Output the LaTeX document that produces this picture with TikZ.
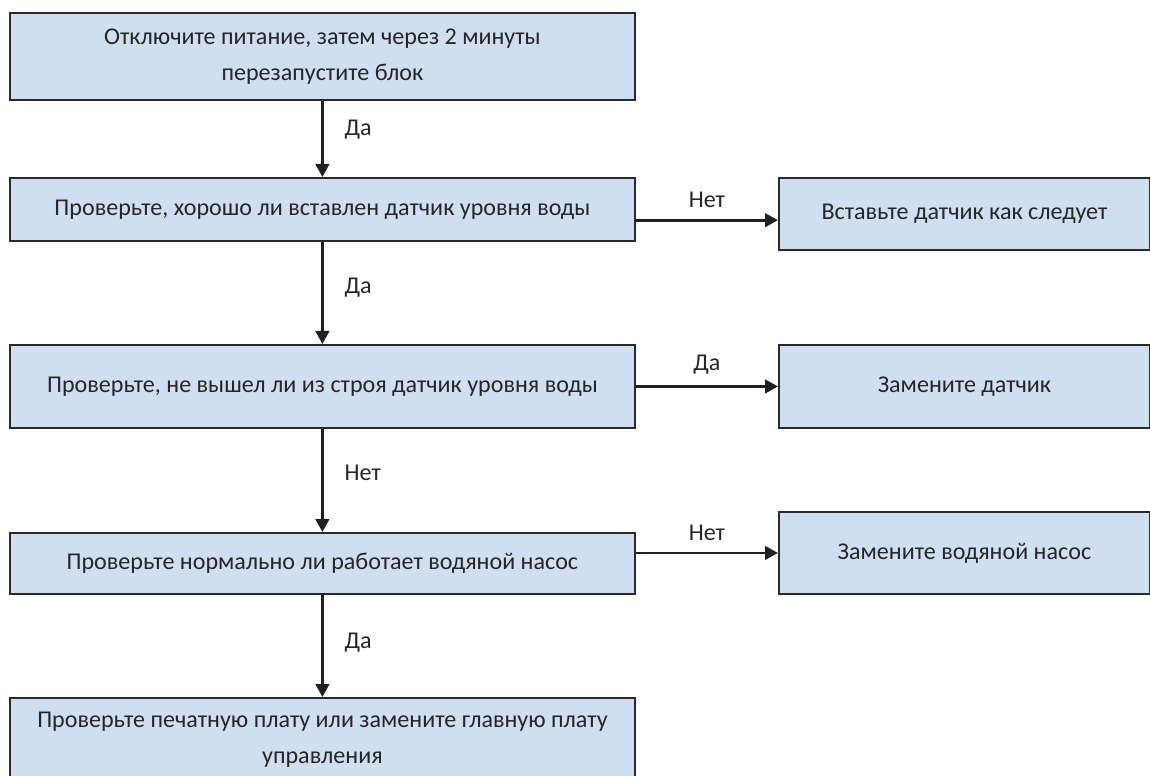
\documentclass[tikz,border=0pt]{standalone}
\usepackage{fontspec}
\setmainfont{Carlito}
\usetikzlibrary{arrows.meta, positioning, calc}
\definecolor{BoxBlue}{HTML}{CFDEF0}
\definecolor{EdgeGray}{HTML}{2A2A2A}
\definecolor{InkGray}{HTML}{262626}
\definecolor{ArrowInk}{HTML}{231F20}
\tikzset{
  stepbox/.style={draw=EdgeGray, line width=1.1pt, fill=BoxBlue, align=center, minimum width=12.5cm, inner sep=4pt, text=InkGray, font=\fontsize{13.7}{20.5}\selectfont, anchor=north west},
  sidebox/.style={stepbox, minimum width=7.42cm},
  flowarrow/.style={-{Triangle[length=0.26cm, width=0.27cm]}, line width=1.6pt, draw=ArrowInk},
  answer/.style={text=InkGray, font=\fontsize{13.7}{16}\selectfont}
}
\begin{document}
\begin{tikzpicture}[x=0.02cm, y=-0.02cm]
\useasboundingbox (0,0) rectangle (1150,776);
% left column
\node[stepbox, minimum height=1.74cm] (poweroff) at (9,12) {Отключите питание, затем через 2 минуты\\перезапустите блок};
\node[stepbox, minimum height=1.26cm] (checkfit) at (9,177) {Проверьте, хорошо ли вставлен датчик уровня воды};
\node[stepbox, minimum height=1.66cm] (checkfail) at (9,344) {Проверьте, не вышел ли из строя датчик уровня воды};
\node[stepbox, minimum height=1.22cm] (checkpump) at (9,532) {Проверьте нормально ли работает водяной насос};
\node[stepbox, minimum height=1.66cm] (checkboard) at (9,697) {Проверьте печатную плату или замените главную плату\\управления};
% right column
\node[sidebox, minimum height=1.44cm] (refit) at (778,177) {Вставьте датчик как следует};
\node[sidebox, minimum height=1.66cm] (newsensor) at (778,344) {Замените датчик};
\node[sidebox, minimum height=1.64cm] (newpump) at (778,511) {Замените водяной насос};

\draw[flowarrow] (poweroff) -- node[answer, pos=0.38, right=0.3cm] {Да} (checkfit);
\draw[flowarrow] (checkfit) -- node[answer, pos=0.45, right=0.3cm] {Да} (checkfail);
\draw[flowarrow] (checkfail) -- node[answer, pos=0.43, right=0.3cm] {Нет} (checkpump);
\draw[flowarrow] (checkpump) -- node[answer, pos=0.47, right=0.3cm] {Да} (checkboard);

\coordinate (fitout) at ($(checkfit.east)!0.33!(checkfit.south east)$);
\draw[flowarrow] (fitout) -- node[answer, above=0.1cm] {Нет} (fitout -| refit.west);
\draw[flowarrow] (checkfail) -- node[answer, above=0.1cm] {Да} (newsensor);
\draw[flowarrow] (checkpump.east |- newpump.west) -- node[answer, above=0.1cm] {Нет} (newpump);
\end{tikzpicture}
\end{document}
